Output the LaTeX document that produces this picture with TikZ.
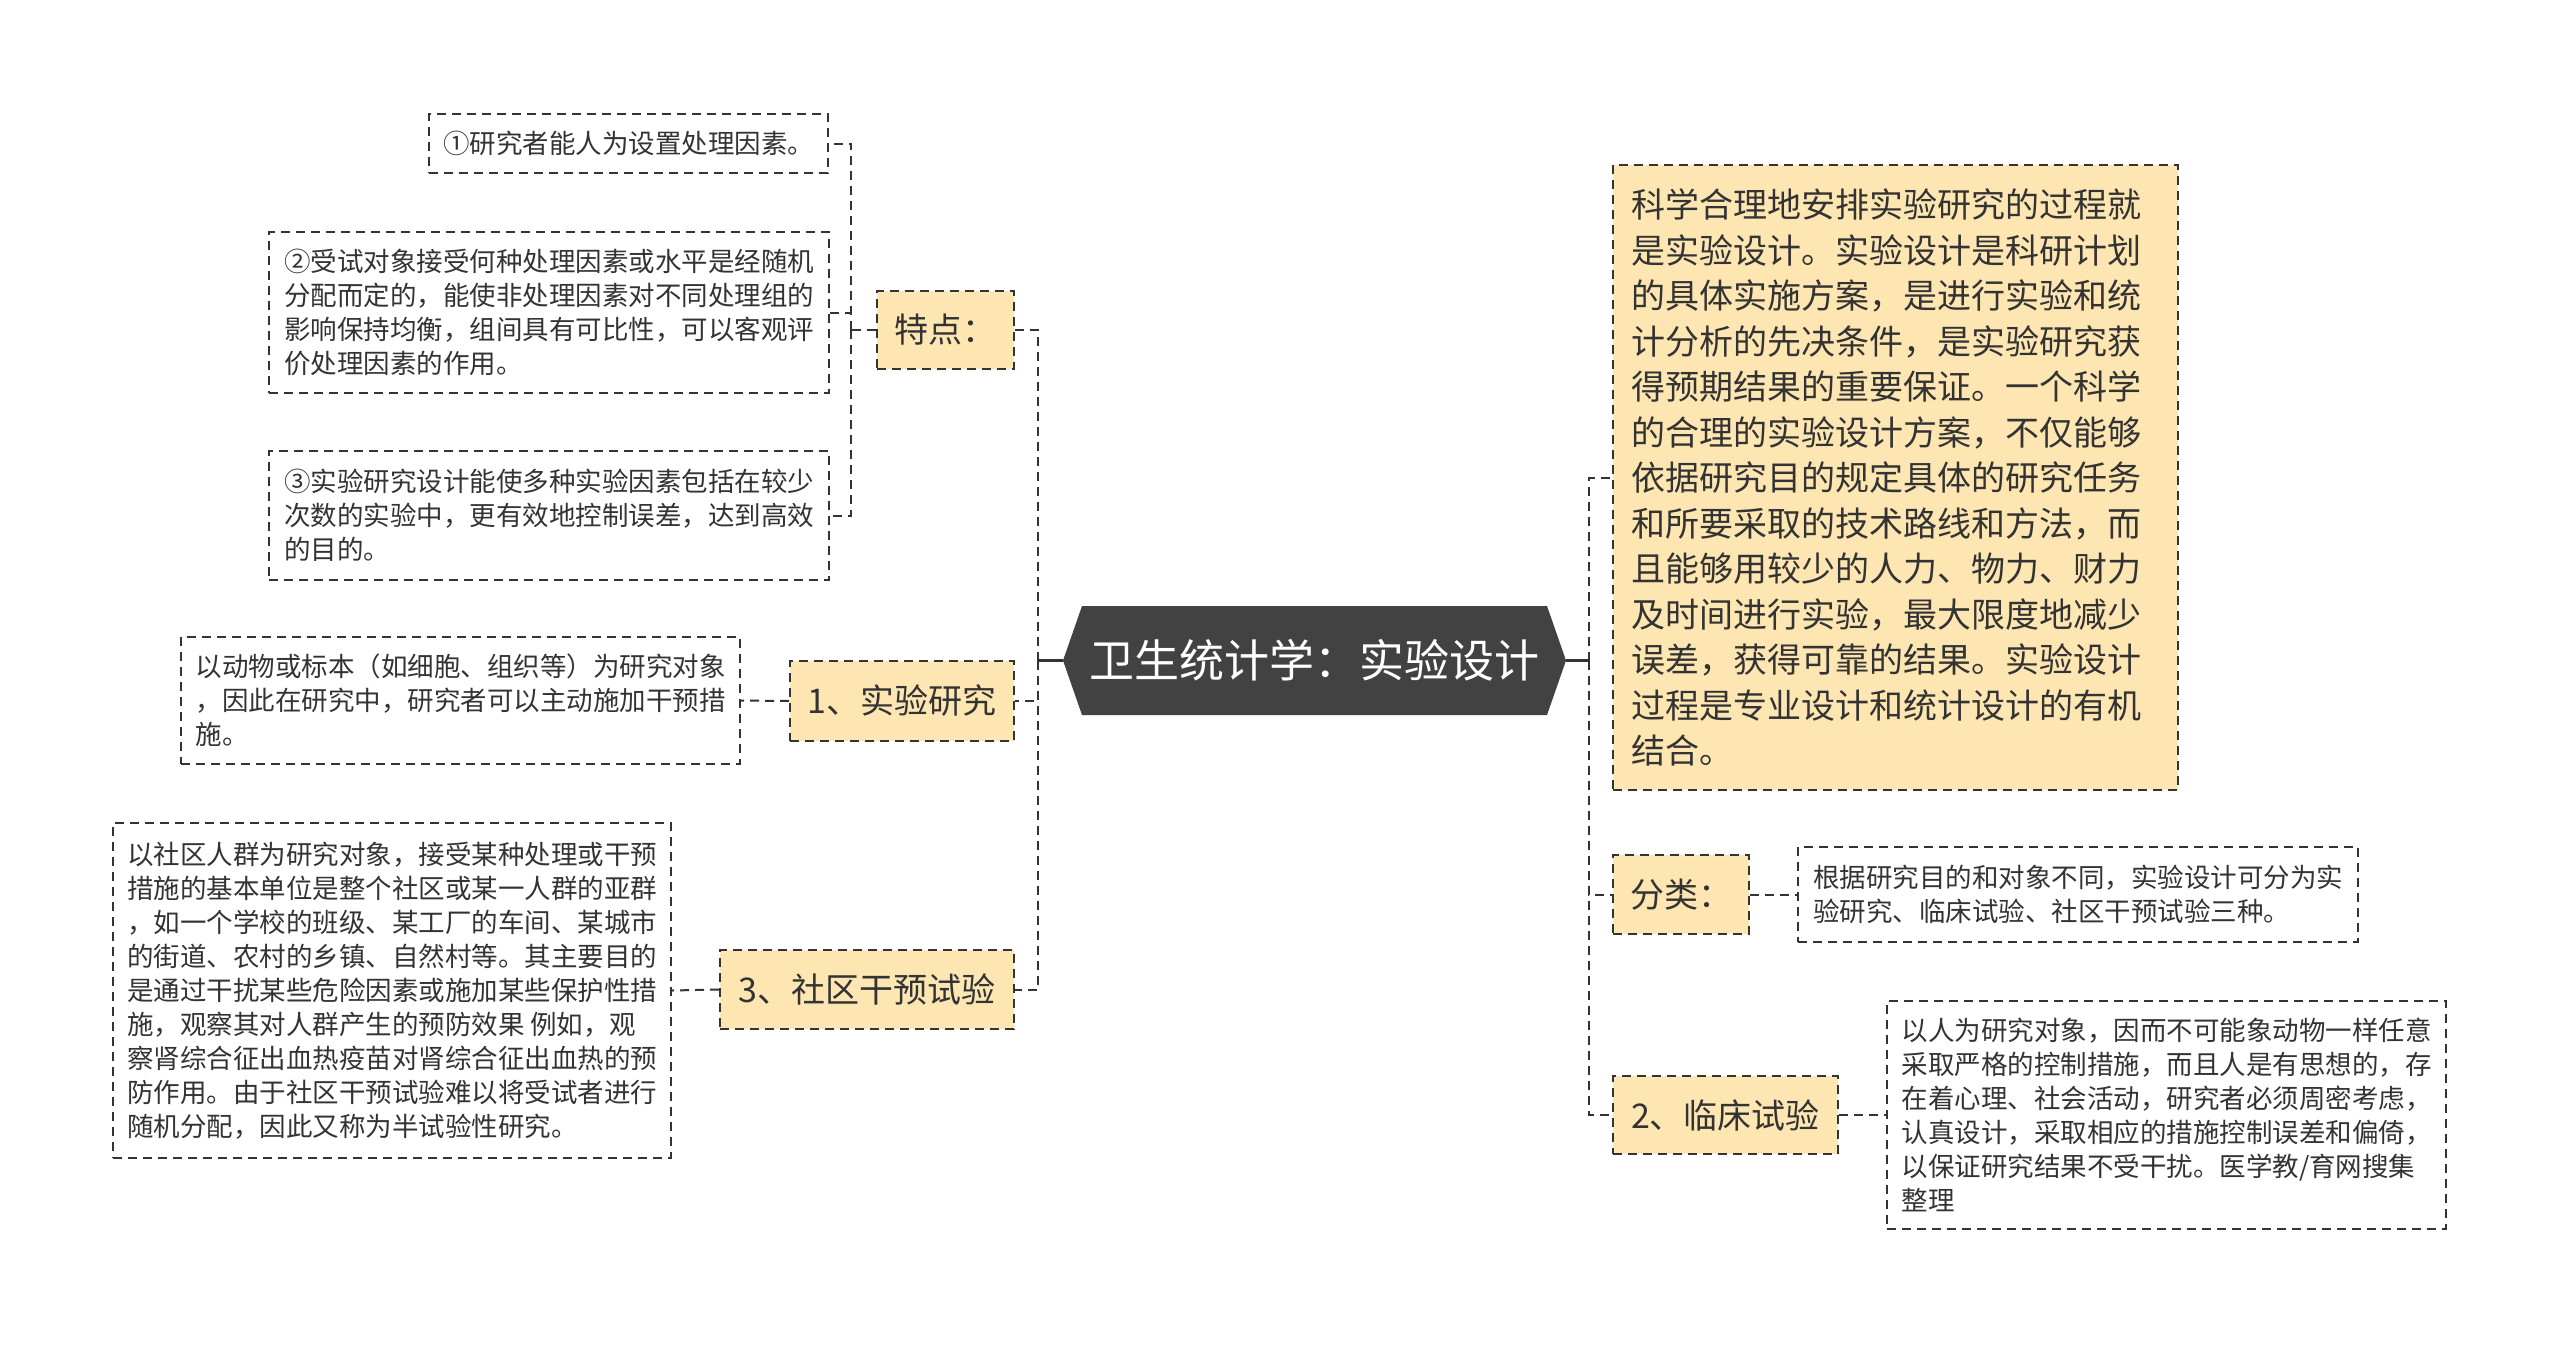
\documentclass[tikz,border=0pt]{standalone}
\usepackage{fontspec}
\setmainfont{Noto Sans CJK SC}
\usetikzlibrary{calc}
\definecolor{yel}{HTML}{FDE6B2}
\definecolor{dk}{HTML}{333333}
\definecolor{mainbg}{HTML}{424242}
\begin{document}
\begin{tikzpicture}[x=0.5pt,y=-0.5pt,
 conn/.style={draw=dk, line width=1pt, dash pattern=on 4.5pt off 3pt},
 stub/.style={draw=dk, line width=1.5pt},
 leaf/.style={draw=dk, line width=0.9pt, dash pattern=on 4.5pt off 3pt, fill=white, align=left, inner sep=0pt, font=\fontsize{13.25pt}{17pt}\selectfont, text=dk},
 cat/.style={draw=dk, line width=1pt, dash pattern=on 4.5pt off 3pt, fill=yel, inner sep=0pt, font=\fontsize{17pt}{22pt}\selectfont, text=dk},
 bigbox/.style={cat, align=left, text width=264.5pt, font=\fontsize{17pt}{22.75pt}\selectfont},
]
\useasboundingbox (0,0) rectangle (2560,1345);
\fill[white] (0,0) rectangle (2560,1345);

% central node
\coordinate (cl) at (1063,660.5);
\coordinate (cr) at (1566,660.5);
\fill[mainbg] (cl) -- (1082,606) -- (1547,606) -- (cr) -- (1547,715) -- (1082,715) -- cycle;
\node[font=\fontsize{22.5pt}{26pt}\selectfont, text=white, inner sep=0pt] (c) at (1314.5,660.5) {卫生统计学：实验设计};

% left side
\node[leaf, minimum width=199.5pt, minimum height=29.5pt] (n1) at (628.5,143.5) {①研究者能人为设置处理因素。};
\node[leaf, minimum width=280pt, minimum height=80.5pt] (n2) at (549,312.5) {②受试对象接受何种处理因素或水平是经随机\\分配而定的，能使非处理因素对不同处理组的\\影响保持均衡，组间具有可比性，可以客观评\\价处理因素的作用。};
\node[leaf, minimum width=280pt, minimum height=64.5pt] (n3) at (549,515.5) {③实验研究设计能使多种实验因素包括在较少\\次数的实验中，更有效地控制误差，达到高效\\的目的。};
\node[cat, minimum width=68.5pt, minimum height=39pt] (tedian) at (945.5,330) {特点：};
\node[cat, minimum width=112pt, minimum height=40pt] (sy) at (902,701) {1、实验研究};
\node[leaf, minimum width=279.5pt, minimum height=63.5pt] (syc) at (460.5,700.5) {以动物或标本（如细胞、组织等）为研究对象\\，因此在研究中，研究者可以主动施加干预措\\施。};
\node[cat, minimum width=147pt, minimum height=39.5pt] (sq) at (867,989.5) {3、社区干预试验};
\node[leaf, minimum width=279pt, minimum height=167.5pt] (sqc) at (392,990.5) {以社区人群为研究对象，接受某种处理或干预\\措施的基本单位是整个社区或某一人群的亚群\\，如一个学校的班级、某工厂的车间、某城市\\的街道、农村的乡镇、自然村等。其主要目的\\是通过干扰某些危险因素或施加某些保护性措\\施，观察其对人群产生的预防效果 例如，观\\察肾综合征出血热疫苗对肾综合征出血热的预\\防作用。由于社区干预试验难以将受试者进行\\随机分配，因此又称为半试验性研究。};

% right side
\node[bigbox, minimum width=282.5pt, minimum height=312.5pt] (big) at (1895.5,477.5) {科学合理地安排实验研究的过程就\\是实验设计。实验设计是科研计划\\的具体实施方案，是进行实验和统\\计分析的先决条件，是实验研究获\\得预期结果的重要保证。一个科学\\的合理的实验设计方案，不仅能够\\依据研究目的规定具体的研究任务\\和所要采取的技术路线和方法，而\\且能够用较少的人力、物力、财力\\及时间进行实验，最大限度地减少\\误差，获得可靠的结果。实验设计\\过程是专业设计和统计设计的有机\\结合。};
\node[cat, minimum width=68pt, minimum height=39.5pt] (fl) at (1681,894.5) {分类：};
\node[leaf, minimum width=280pt, minimum height=47.5pt] (flc) at (2078,894.5) {根据研究目的和对象不同，实验设计可分为实\\验研究、临床试验、社区干预试验三种。};
\node[cat, minimum width=112.5pt, minimum height=39pt] (lc) at (1725.5,1115) {2、临床试验};
\node[leaf, minimum width=279.5pt, minimum height=114pt] (lcc) at (2166.5,1115) {以人为研究对象，因而不可能象动物一样任意\\采取严格的控制措施，而且人是有思想的，存\\在着心理、社会活动，研究者必须周密考虑，\\认真设计，采取相应的措施控制误差和偏倚，\\以保证研究结果不受干扰。医学教/育网搜集\\整理};

% connectors
\coordinate (bl) at (1038,660.5);
\coordinate (br) at (1589,660.5);
\coordinate (bt) at (851,330);
\draw[stub] (cl) -- (bl);
\draw[conn] (bl) |- (tedian.east);
\draw[conn] (bl) |- (sy.east);
\draw[conn] (bl) |- (sq.east);
\draw[stub] (cr) -- (br);
\draw[conn] (br) |- (big.west);
\draw[conn] (br) |- (fl.west);
\draw[conn] (br) |- (lc.west);
\draw[conn] (tedian.west) -- (bt);
\draw[conn] (bt) |- (n1.east);
\draw[conn] (bt) |- (n2.east);
\draw[conn] (bt) |- (n3.east);
\draw[conn] (sy.west) -- (syc.east);
\draw[conn] (sq.west) -- (sqc.east);
\draw[conn] (fl.east) -- (flc.west);
\draw[conn] (lc.east) -- (lcc.west);
\end{tikzpicture}
\end{document}
